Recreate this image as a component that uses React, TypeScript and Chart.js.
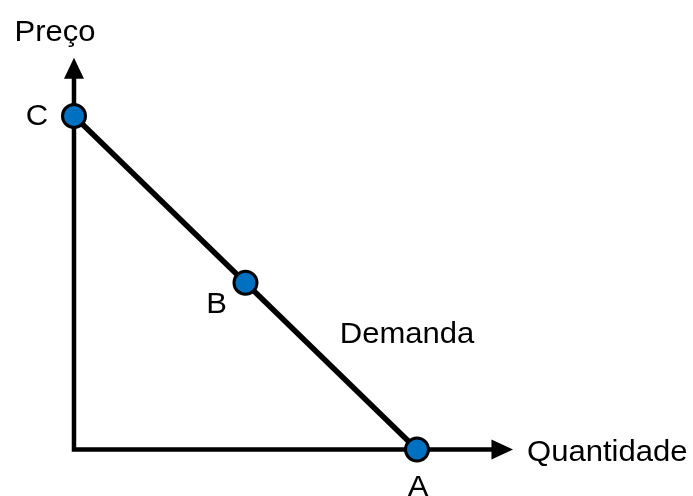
import React, { useEffect, useRef } from 'react';
import { Chart, registerables } from 'chart.js';
Chart.register(...registerables);

// Data (in abstract quantity / price units)
const pointNames = ['C', 'B', 'A'];
const quantities = [0, 5, 10];
const prices = [10, 5, 0];
const xAxisTitle = 'Quantidade';
const yAxisTitle = 'Preço';
const curveLabel = 'Demanda';
const curveLabelAt = [7.75, 3.5];
const xAxisEnd = 12.2;
const xArrowTip = 12.8;
const yAxisEnd = 11.15;
const yArrowTip = 11.75;

const FONT = '"Liberation Sans", Arial, sans-serif';
const FS = 29;
const SX = 1.07;

function drawText(ctx: CanvasRenderingContext2D, text: string, x: number, capCenterY: number, align: 'left' | 'center') {
  ctx.save();
  ctx.font = `${FS}px ${FONT}`;
  ctx.fillStyle = '#000';
  ctx.textBaseline = 'alphabetic';
  const w = ctx.measureText(text).width * SX;
  const left = align === 'left' ? x : x - w / 2;
  ctx.translate(left, capCenterY + FS * 0.358);
  ctx.scale(SX, 1);
  ctx.textAlign = 'left';
  ctx.fillText(text, 0, 0);
  ctx.restore();
}

const decorPlugin = {
  id: 'decor',
  afterDatasetsDraw(chart: any) {
    const ctx: CanvasRenderingContext2D = chart.ctx;
    const xs = chart.scales.x;
    const ys = chart.scales.y;
    const x0 = xs.getPixelForValue(0);
    const y0 = ys.getPixelForValue(0);
    // arrowheads
    const half = 10;
    ctx.save();
    ctx.fillStyle = '#000';
    const yb = ys.getPixelForValue(yAxisEnd);
    const yt = ys.getPixelForValue(yArrowTip);
    ctx.beginPath();
    ctx.moveTo(x0, yt);
    ctx.lineTo(x0 - half, yb + 1);
    ctx.lineTo(x0 + half, yb + 1);
    ctx.closePath();
    ctx.fill();
    const xb = xs.getPixelForValue(xAxisEnd);
    const xt = xs.getPixelForValue(xArrowTip);
    ctx.beginPath();
    ctx.moveTo(xt, y0);
    ctx.lineTo(xb - 1, y0 - half);
    ctx.lineTo(xb - 1, y0 + half);
    ctx.closePath();
    ctx.fill();
    ctx.restore();

    // axis titles
    drawText(ctx, yAxisTitle, x0 - 19, yt - 27, 'center');
    drawText(ctx, xAxisTitle, xt + 14, y0 + 1, 'left');
    drawText(ctx, curveLabel, xs.getPixelForValue(curveLabelAt[0]), ys.getPixelForValue(curveLabelAt[1]), 'left');

    // point labels
    const offsets = [[-37, -1], [-29, 20], [1, 36]];
    pointNames.forEach((n, i) => {
      const px = xs.getPixelForValue(quantities[i]);
      const py = ys.getPixelForValue(prices[i]);
      drawText(ctx, n, px + offsets[i][0], py + offsets[i][1], 'center');
    });
  },
};

export default function App() {
  const ref = useRef<HTMLCanvasElement>(null);
  useEffect(() => {
    document.body.style.margin = '0';
    const chart = new Chart(ref.current!, {
      type: 'scatter',
      data: {
        datasets: [
          {
            data: pointNames.map((_, i) => ({ x: quantities[i], y: prices[i] })),
            showLine: false,
            pointRadius: 11.5,
            pointBorderWidth: 3,
            pointBackgroundColor: '#0070C0',
            pointBorderColor: '#000',
            order: 0,
          },
          {
            data: [{ x: quantities[0], y: prices[0] }, { x: quantities[2], y: prices[2] }],
            showLine: true,
            borderColor: '#000',
            borderWidth: 5.5,
            pointRadius: 0,
            order: 1,
          },
          {
            data: [{ x: 0, y: yAxisEnd }, { x: 0, y: 0 }, { x: xAxisEnd, y: 0 }],
            showLine: true,
            borderColor: '#000',
            borderWidth: 4.5,
            borderJoinStyle: 'miter',
            pointRadius: 0,
            order: 2,
          },
        ],
      },
      options: {
        responsive: false,
        animation: false,
        layout: { padding: 0, autoPadding: false },
        clip: false,
        plugins: { legend: { display: false }, tooltip: { enabled: false } },
        scales: {
          x: { type: 'linear', display: false, min: -2.157, max: 18.047 },
          y: { type: 'linear', display: false, min: -1.395, max: 13.478 },
        },
      },
      plugins: [decorPlugin],
    });
    return () => chart.destroy();
  }, []);
  return (
    <div style={{ width: 693, height: 496, background: '#fff' }}>
      <canvas ref={ref} width={693} height={496} />
    </div>
  );
}
